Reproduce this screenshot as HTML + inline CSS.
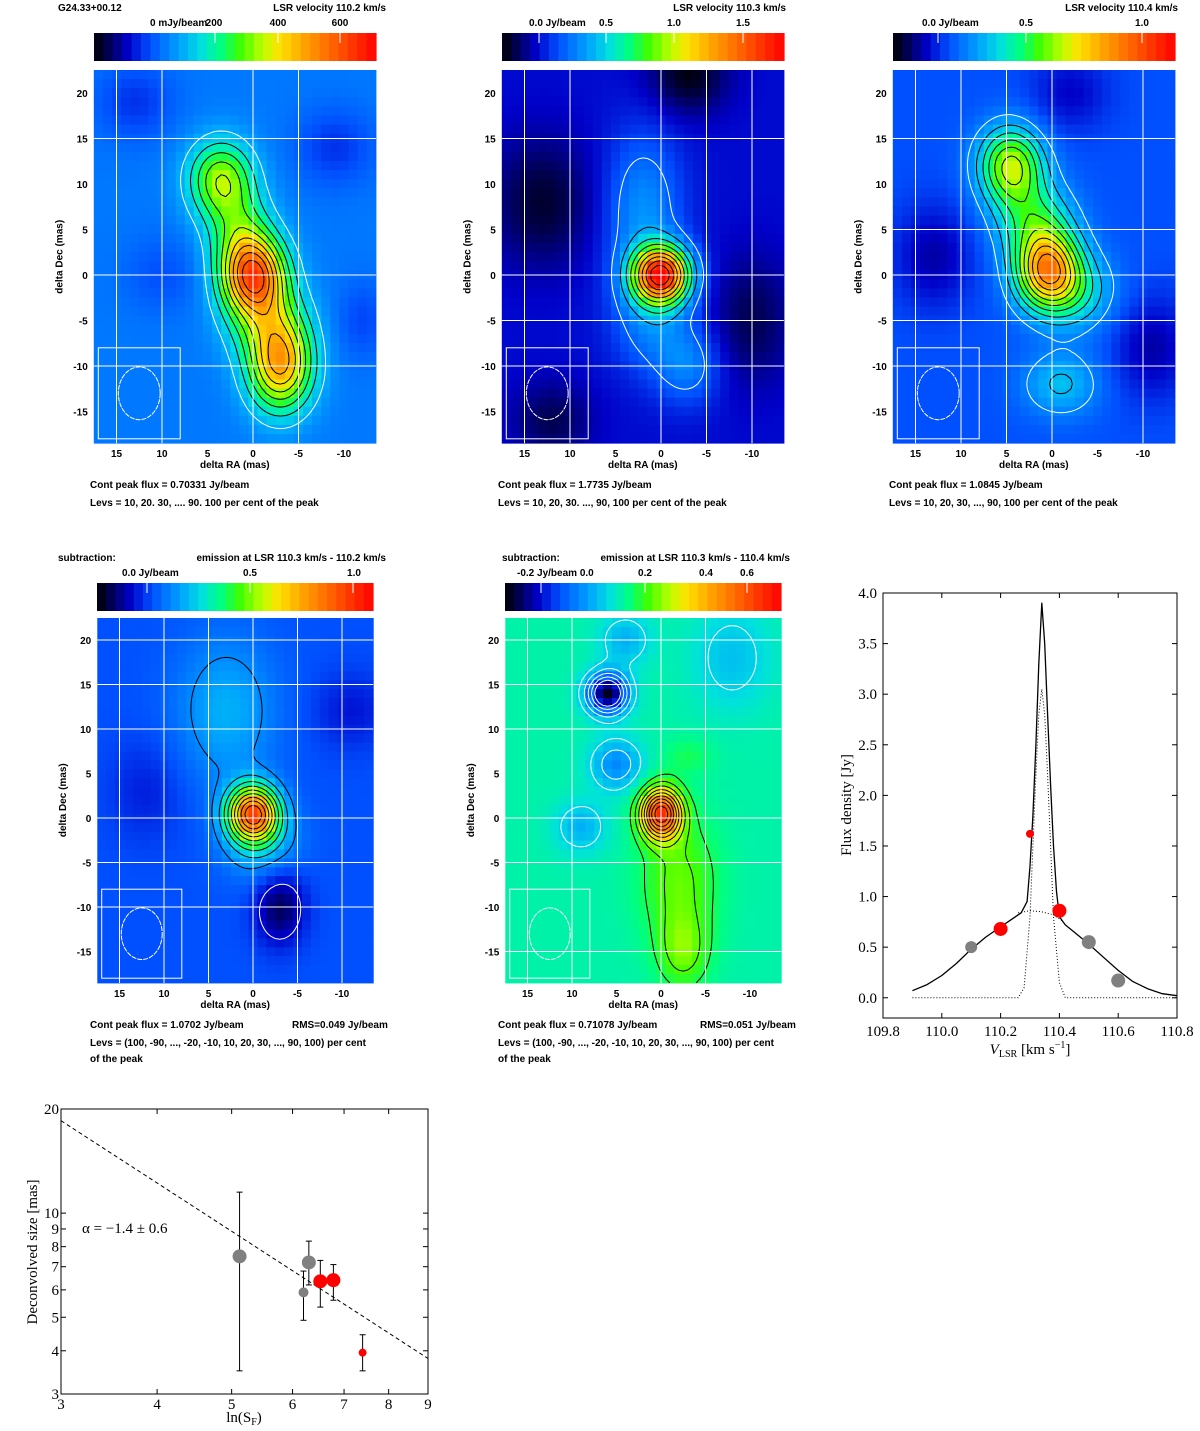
<!DOCTYPE html>
<html><head><meta charset="utf-8"><style>
html,body{margin:0;padding:0;background:#fff}
svg{display:block}
.s{font-family:"Liberation Sans",sans-serif;font-weight:bold;font-size:10px;fill:#000}
.r{font-family:"Liberation Serif",serif;font-size:15px;fill:#000}
</style></head><body>
<svg id="fig" width="1200" height="1431" viewBox="0 0 1200 1431" xmlns="http://www.w3.org/2000/svg">
<g id="maps"></g>
<g id="spec"></g>
<g id="sz"></g>
</svg>
<script>
// ===== map data: gaussian components [ra, dec, amp, sx, sy]
const p1Comps=[[0,0,0.6,2.5,3],[-3,-10,0.47,2.5,3.5],[3.5,10.5,0.33,2.5,3],[1.5,5,0.18,2.5,3],[-1.5,-5,0.2,3,3],[13,19,-0.08,3,3],[-9,14,-0.08,3,3],[-12,-5,-0.06,2,3],[10,0,-0.05,3,3]];
const p2Comps=[[0,0,0.8,2.2,2.2],[2,7,0.15,3,6],[-3,-10,0.12,2.5,3],[1,-5,0.12,3,4],[13,8,-0.1,4,5],[-3,22,-0.12,3,3],[-10,-5,-0.08,3,5],[12,-16,-0.08,3,3]];
const p3Comps=[[0.5,0.5,0.55,2.5,3],[4.5,12,0.4,2.5,3],[2,6,0.22,3,3],[-1,-12,0.14,3,2.5],[-3,-2,0.15,3,3],[13,2,-0.1,3,4],[-11,-8,-0.1,3,4],[-2,20,-0.08,3,3]];
const p4Comps=[[0,0.5,0.65,2,2.2],[3,12,0.12,4,6],[-1,-3,0.12,3,3],[-3,-10,-0.15,2,3],[12,3,-0.05,3,4],[-11,12,-0.06,3,3]];
const p5Comps=[[0,0.5,0.5,1.6,2],[-2,-7,0.12,3,5],[-2.5,-15,0.12,2,3],[-3,7,0.05,2,1.5],[6,14,-0.4,1.6,1.6],[5,6,-0.15,2,2],[9,-1,-0.1,2,2],[4,20,-0.1,2,2],[-8,18,-0.08,3,4]];
const mapBg=[0.25,0.13,0.2,0.2,0.42];
const raTicks=[15,10,5,0,-5,-10];
const decTicks=[20,15,10,5,0,-5,-10,-15];

// ===== spectrum data
const specV=[109.9,109.95,110.0,110.05,110.1,110.15,110.2,110.24,110.27,110.29,110.3,110.31,110.32,110.33,110.34,110.35,110.36,110.37,110.38,110.39,110.4,110.42,110.45,110.5,110.55,110.6,110.65,110.7,110.75,110.8];
const specF=[0.07,0.13,0.22,0.34,0.48,0.6,0.7,0.78,0.84,0.95,1.3,1.8,2.5,3.3,3.9,3.5,2.8,2.1,1.5,1.05,0.8,0.72,0.65,0.53,0.4,0.27,0.16,0.09,0.04,0.02];
const broadV=[110.26,110.3,110.34,110.38,110.41];
const broadF=[0.84,0.86,0.85,0.82,0.76];
const narrowV=[109.9,110.26,110.28,110.3,110.31,110.32,110.33,110.34,110.35,110.36,110.37,110.38,110.4,110.42,110.8];
const narrowF=[0,0,0.1,0.8,1.5,2.2,2.8,3.05,2.8,2.2,1.5,0.8,0.15,0,0];
const ptV=[110.1,110.2,110.3,110.4,110.5,110.6];
const ptF=[0.5,0.68,1.62,0.86,0.55,0.17];
const ptRed=[0,1,1,1,0,0];
const ptR=[6,7,4,7,7,7];
const specYTicks=[0,0.5,1,1.5,2,2.5,3,3.5,4];
const specXTicks=[109.8,110.0,110.2,110.4,110.6,110.8];

// ===== size-flux data
const szX=[5.12,6.2,6.3,6.52,6.78,7.4];
const szY=[7.5,5.9,7.2,6.35,6.4,3.95];
const szLo=[3.5,4.9,6.2,5.35,5.6,3.5];
const szHi=[11.5,6.8,8.3,7.3,7.1,4.45];
const szRed=[0,0,0,1,1,1];
const szR=[7,5,7,7,7,4];
const fitX=[3,9];
const fitY=[18.5,3.8];
const szXTicks=[3,4,5,6,7,8,9];
const szYTicks=[3,4,5,6,7,8,9,10,20];

const NS="http://www.w3.org/2000/svg";
function mk(tag,attrs,parent,txt){const e=document.createElementNS(NS,tag);for(const k in attrs)e.setAttribute(k,attrs[k]);if(txt!==undefined)e.textContent=txt;parent.appendChild(e);return e;}

const stops=[[0,[0,0,0]],[0.05,[0,0,80]],[0.12,[0,0,200]],[0.2,[0,80,255]],[0.3,[0,160,255]],[0.38,[0,224,224]],[0.45,[0,255,128]],[0.52,[64,255,0]],[0.6,[192,255,0]],[0.66,[255,224,0]],[0.75,[255,160,0]],[0.85,[255,96,0]],[1,[255,0,0]]];
function cmap(v){v=Math.max(0,Math.min(1,v));for(let i=1;i<stops.length;i++){if(v<=stops[i][0]){const a=stops[i-1],b=stops[i],t=(v-a[0])/(b[0]-a[0]);const c=a[1].map((x,j)=>Math.round(x+(b[1][j]-x)*t));return `rgb(${c[0]},${c[1]},${c[2]})`;}}return "rgb(255,0,0)";}
function field(comps,x,y){let s=0;for(const c of comps){const dx=(x-c[0])/c[3],dy=(y-c[1])/c[4];s+=c[2]*Math.exp(-0.5*(dx*dx+dy*dy));}return s;}

const panels=[
 {comps:p1Comps,bg:mapBg[0],x0:253,y0:275,sc:9.1,top:70,cbTop:33,cbL:94,cbR:376,neg:false,ra:[15,10,0,-5],dec:[15,0,-10],
  t1:["G24.33+00.12",58],t2:["LSR velocity 110.2 km/s",386],lab:[["0 mJy/beam",150,"start"],["200",214,"middle"],["400",278,"middle"],["600",340,"middle"]],tk:[215,278,340],
  notes:[["Cont peak flux =  0.70331 Jy/beam",90,488],["Levs = 10, 20. 30, .... 90. 100 per cent of the peak",90,506]]},
 {comps:p2Comps,bg:mapBg[1],x0:661,y0:275,sc:9.1,top:70,cbTop:33,cbL:502,cbR:784,neg:false,ra:[15,10,0,-5,-10],dec:[15,0,-5,-10],
  t2:["LSR velocity 110.3 km/s",786],lab:[["0.0 Jy/beam",529,"start"],["0.5",606,"middle"],["1.0",674,"middle"],["1.5",743,"middle"]],tk:[539,606,674,743],
  notes:[["Cont peak flux =  1.7735 Jy/beam",498,488],["Levs = 10, 20, 30. ..., 90, 100 per cent of the peak",498,506]]},
 {comps:p3Comps,bg:mapBg[2],x0:1052,y0:275,sc:9.1,top:70,cbTop:33,cbL:893,cbR:1175,neg:false,ra:[15,10,5,0,-10],dec:[15,5,0,-5,-10],
  t2:["LSR velocity 110.4 km/s",1178],lab:[["0.0 Jy/beam",922,"start"],["0.5",1026,"middle"],["1.0",1142,"middle"]],tk:[938,1026,1142],
  notes:[["Cont peak flux =  1.0845 Jy/beam",889,488],["Levs = 10, 20, 30, ..., 90, 100 per cent of the peak",889,506]]},
 {comps:p4Comps,bg:mapBg[3],x0:253,y0:818,sc:8.9,top:618,cbTop:583,cbL:97,cbR:373,neg:true,ra:[15,10,5,0,-5,-10],dec:[20,15,10,0,-5,-10],
  t1:["subtraction:",58],t2:["emission at LSR 110.3 km/s - 110.2 km/s",386],lab:[["0.0 Jy/beam",122,"start"],["0.5",250,"middle"],["1.0",354,"middle"]],tk:[147,250,353],
  notes:[["Cont peak flux =  1.0702 Jy/beam",90,1028],["RMS=0.049 Jy/beam",292,1028],["Levs = (100, -90, ..., -20, -10, 10, 20, 30, ..., 90, 100) per cent",90,1046],["of the peak",90,1062]]},
 {comps:p5Comps,bg:mapBg[4],x0:661,y0:818,sc:8.9,top:618,cbTop:583,cbL:505,cbR:781,neg:true,ra:[15,10,0,-5],dec:[20,15,10,0,-5,-15],
  t1:["subtraction:",502],t2:["emission at LSR 110.3 km/s - 110.4 km/s",790],lab:[["-0.2 Jy/beam 0.0",517,"start"],["0.2",645,"middle"],["0.4",706,"middle"],["0.6",747,"middle"]],tk:[541,645,747],
  notes:[["Cont peak flux =  0.71078 Jy/beam",498,1028],["RMS=0.051 Jy/beam",700,1028],["Levs = (100, -90, ..., -20, -10, 10, 20, 30, ..., 90, 100) per cent",498,1046],["of the peak",498,1062]]}
];

const gm=document.getElementById('maps');
panels.forEach((p,pi)=>{
 const g=mk('g',{},gm);
 
 
 const X=ra=>p.x0-ra*p.sc, Y=dec=>p.y0-dec*p.sc;
 const raL=17.5,raR=-13.5,decT=(p.y0-p.top)/p.sc,decB=decT-41;
 const n=30,w=(p.cbR-p.cbL)/n;
 for(let i=0;i<n;i++){const r=mk('rect',{x:p.cbL+i*w,y:p.cbTop,width:w+0.6,height:28,fill:cmap((i+0.5)/n)},g);}
 p.tk.forEach(t=>mk('line',{x1:t,x2:t,y1:p.cbTop,y2:p.cbTop+10,stroke:'#fff','stroke-width':1},g));
 if(p.t1){const e=mk('text',{x:p.t1[1],y:p.cbTop-22,class:'s'},g,p.t1[0]);}
 const e2=mk('text',{x:p.t2[1],y:p.cbTop-22,class:'s','text-anchor':'end'},g,p.t2[0]);
 p.lab.forEach(l=>{const e=mk('text',{x:l[1],y:p.cbTop-7,class:'s','text-anchor':l[2]},g,l[0]);});
 for(let ra=raL;ra>raR;ra-=1){for(let dec=decT;dec>decB;dec-=1){
   const cx=ra-0.5,cy=dec-0.5;const v=p.bg+field(p.comps,cx,cy);
   const r=mk('rect',{x:X(ra).toFixed(1),y:Y(dec).toFixed(1),width:(p.sc+0.5).toFixed(1),height:(p.sc+0.5).toFixed(1),fill:cmap(v)},g);
   
   
 }}
 const step=0.5,nx=Math.round(31/step),ny=Math.round(41/step);
 const F=[];let peak=0;
 for(let j=0;j<=ny;j++){F[j]=[];for(let i=0;i<=nx;i++){const v=field(p.comps,raL-i*step,decT-j*step);F[j][i]=v;if(v>peak)peak=v;}}
 const levs=[];for(let k=1;k<=9;k++)levs.push(k/10);
 if(p.neg){for(let k=1;k<=5;k++)levs.push(-k/10);}
 levs.forEach(L=>{
   const lv=L*peak;let d='';
   for(let j=0;j<ny;j++)for(let i=0;i<nx;i++){
     const a=F[j][i],b=F[j][i+1],c=F[j+1][i+1],dd=F[j+1][i];
     const pts=[];
     const ed=(v1,v2,x1,y1,x2,y2)=>{if((v1-lv)*(v2-lv)<0){const t=(lv-v1)/(v2-v1);pts.push([x1+(x2-x1)*t,y1+(y2-y1)*t]);}};
     const px=ii=>X(raL-ii*step),py=jj=>Y(decT-jj*step);
     ed(a,b,px(i),py(j),px(i+1),py(j));ed(b,c,px(i+1),py(j),px(i+1),py(j+1));
     ed(c,dd,px(i+1),py(j+1),px(i),py(j+1));ed(dd,a,px(i),py(j+1),px(i),py(j));
     for(let q=0;q+1<pts.length;q+=2)d+=`M${pts[q][0].toFixed(1)} ${pts[q][1].toFixed(1)}L${pts[q+1][0].toFixed(1)} ${pts[q+1][1].toFixed(1)}`;
   }
   if(d){const white=L<0||(!p.neg&&Math.abs(L-0.1)<1e-6);const c=mk('path',{d:d,fill:'none',stroke:white?'#fff':'#000','stroke-width':1},g);}
 });
 p.ra.forEach(r=>mk('line',{x1:X(r),x2:X(r),y1:p.top,y2:Y(decB),stroke:'#fff','stroke-width':1},g));
 p.dec.forEach(d=>mk('line',{x1:X(raL),x2:X(raR),y1:Y(d),y2:Y(d),stroke:'#fff','stroke-width':1},g));
 mk('rect',{x:X(17),y:Y(-8),width:9*p.sc,height:10*p.sc,fill:'none',stroke:'#fff','stroke-width':1},g);
 const be=mk('ellipse',{cx:X(12.5),cy:Y(-13),rx:2.3*p.sc,ry:2.9*p.sc,fill:'none',stroke:'#fff','stroke-width':1,'stroke-dasharray':'5,1'},g);
 
 raTicks.forEach(r=>mk('text',{x:X(r),y:Y(decB)+14,class:'s','text-anchor':'middle'},g,String(r)));
 decTicks.forEach(d=>mk('text',{x:X(raL)-6,y:Y(d)+4,class:'s','text-anchor':'end'},g,String(d)));
 const xl=mk('text',{x:X(2),y:Y(decB)+25,class:'s','text-anchor':'middle'},g,'delta RA (mas)');
 const yx=X(raL)-31,yy=Y(2);
 const yl=mk('text',{x:yx,y:yy,class:'s','text-anchor':'middle',transform:`rotate(-90 ${yx} ${yy})`,'font-size':'9'},g,'delta Dec (mas)');
 p.notes.forEach(nt=>{const e=mk('text',{x:nt[1],y:nt[2],class:'s'},g,nt[0]);});
});

(function(){
 const g=document.getElementById('spec');
 const L=883,R=1177,T=593,B=1018;
 const sx=v=>L+(v-109.8)/1.0*(R-L), sy=f=>B-(f+0.2)/4.2*(B-T);
 mk('rect',{x:L,y:T,width:R-L,height:B-T,fill:'none',stroke:'#000','stroke-width':1},g);
 specYTicks.forEach(t=>{mk('line',{x1:L,x2:L+5,y1:sy(t),y2:sy(t),stroke:'#000'},g);mk('line',{x1:R,x2:R-5,y1:sy(t),y2:sy(t),stroke:'#000'},g);
   mk('text',{x:L-6,y:sy(t)+5,class:'r','text-anchor':'end'},g,t.toFixed(1));});
 specXTicks.forEach(t=>{mk('line',{x1:sx(t),x2:sx(t),y1:B,y2:B-5,stroke:'#000'},g);mk('line',{x1:sx(t),x2:sx(t),y1:T,y2:T+5,stroke:'#000'},g);
   mk('text',{x:sx(t),y:B+18,class:'r','text-anchor':'middle'},g,t.toFixed(1));});
 const line=(vs,fs,dash,name)=>{const d=vs.map((v,i)=>(i?'L':'M')+sx(v).toFixed(1)+' '+sy(fs[i]).toFixed(1)).join('');const e=mk('path',{d:d,fill:'none',stroke:'#000','stroke-width':dash?1:1.3,'stroke-dasharray':dash?'1,2':'none','stroke-linejoin':'round'},g);};
 line(specV,specF,false,'total-fit-line');
 line(broadV,broadF,true,'broad-component-line');
 line(narrowV,narrowF,true,'narrow-component-line');
 ptV.forEach((v,i)=>{const c=mk('circle',{cx:sx(v),cy:sy(ptF[i]),r:ptR[i],fill:ptRed[i]?'#ff0000':'#808080'},g);});
 const yl=mk('text',{x:851,y:805,class:'r','text-anchor':'middle',transform:'rotate(-90 851 805)'},g,'Flux density [Jy]');
 const xl=mk('text',{x:1030,y:1054,class:'r','text-anchor':'middle'},g,'');
 xl.innerHTML='<tspan font-style="italic">V</tspan><tspan font-size="10" dy="3">LSR</tspan><tspan dy="-3"> [km s</tspan><tspan font-size="10" dy="-6">−1</tspan><tspan dy="6">]</tspan>';
})();

(function(){
 const g=document.getElementById('sz');
 const L=61,R=428,T=1109,B=1394;
 const lx=Math.log10, sx=v=>L+(lx(v)-lx(3))/(lx(9)-lx(3))*(R-L), sy=v=>B-(lx(v)-lx(3))/(lx(20)-lx(3))*(B-T);
 mk('rect',{x:L,y:T,width:R-L,height:B-T,fill:'none',stroke:'#000','stroke-width':1},g);
 szXTicks.forEach(t=>{mk('line',{x1:sx(t),x2:sx(t),y1:B,y2:B-5,stroke:'#000'},g);mk('line',{x1:sx(t),x2:sx(t),y1:T,y2:T+5,stroke:'#000'},g);
   mk('text',{x:sx(t),y:B+15,class:'r','text-anchor':'middle'},g,String(t));});
 szYTicks.forEach(t=>{mk('line',{x1:L,x2:L+5,y1:sy(t),y2:sy(t),stroke:'#000'},g);mk('line',{x1:R,x2:R-5,y1:sy(t),y2:sy(t),stroke:'#000'},g);
   mk('text',{x:L-2,y:sy(t)+5,class:'r','text-anchor':'end'},g,String(t));});
 const fl=mk('line',{x1:sx(fitX[0]),y1:sy(fitY[0]),x2:sx(fitX[1]),y2:sy(fitY[1]),stroke:'#000','stroke-width':1,'stroke-dasharray':'4,3'},g);
 
 szX.forEach((x,i)=>{const e=mk('line',{x1:sx(x),x2:sx(x),y1:sy(szLo[i]),y2:sy(szHi[i]),stroke:'#000','stroke-width':1},g);
   
   mk('line',{x1:sx(x)-3,x2:sx(x)+3,y1:sy(szLo[i]),y2:sy(szLo[i]),stroke:'#000'},g);
   mk('line',{x1:sx(x)-3,x2:sx(x)+3,y1:sy(szHi[i]),y2:sy(szHi[i]),stroke:'#000'},g);});
 szX.forEach((x,i)=>{const c=mk('circle',{cx:sx(x),cy:sy(szY[i]),r:szR[i],fill:szRed[i]?'#ff0000':'#808080'},g);});
 const a=mk('text',{x:82,y:1233,class:'r','font-size':'16'},g,'α = −1.4 ± 0.6');
 const yl=mk('text',{x:37,y:1252,class:'r','text-anchor':'middle',transform:'rotate(-90 37 1252)'},g,'Deconvolved size [mas]');
 const xl=mk('text',{x:244,y:1422,class:'r','text-anchor':'middle'},g,'');
 xl.innerHTML='ln(S<tspan font-size="10" dy="3">F</tspan><tspan dy="-3">)</tspan>';
})();
</script>
</body></html>
